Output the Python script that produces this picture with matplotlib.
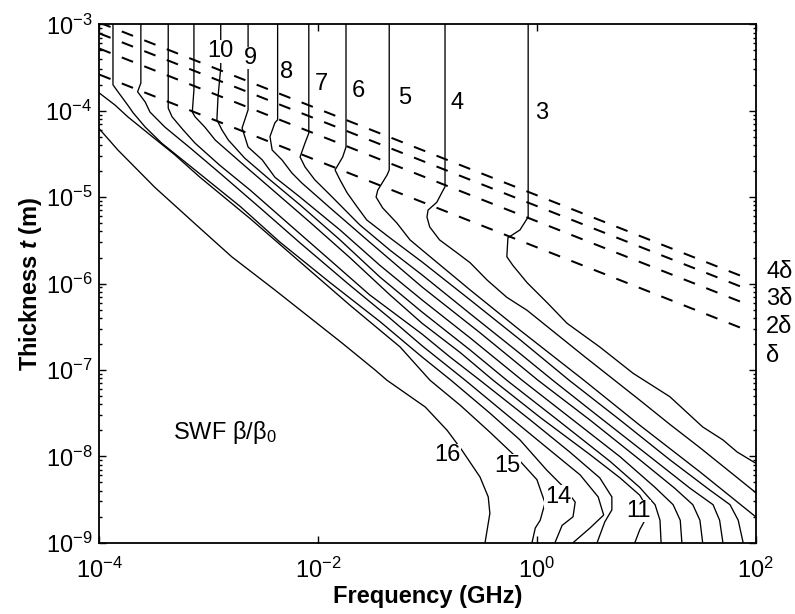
import numpy as np
import matplotlib
matplotlib.use("Agg")
import matplotlib.pyplot as plt
from matplotlib.ticker import FixedLocator, NullLocator, LogLocator, NullFormatter, FixedFormatter

plt.rcParams['font.family'] = ['Liberation Sans', 'DejaVu Sans']
plt.rcParams['mathtext.fontset'] = 'custom'
plt.rcParams['mathtext.rm'] = 'Liberation Sans'
plt.rcParams['mathtext.it'] = 'Liberation Sans:italic:bold'
plt.rcParams['mathtext.bf'] = 'Liberation Sans:bold'

# ---- contour lines of the SWF ratio beta/beta0 : (log10 f [GHz], log10 t [m]) ----
c3_logf = [-0.08, -0.08, -0.155, -0.265, -0.275, -0.22, -0.09, 0.10, 0.275, 0.575, 0.88, 1.215, 1.515, 1.70, 1.83, 2.00]
c3_logt = [-3.00, -5.23, -5.38, -5.47, -5.69, -5.79, -5.99, -6.23, -6.46, -6.735, -7.04, -7.31, -7.66, -7.81, -7.95, -8.08]

c4_logf = [-0.84, -0.84, -0.87, -0.915, -0.995, -1.005, -0.98, -0.89, -0.73, -0.61, -0.455, -0.275, -0.09, 0.145, 0.43, 0.71, 0.94, 1.215, 1.49, 1.765, 2.00]
c4_logt = [-3.00, -4.88, -4.95, -5.06, -5.15, -5.23, -5.345, -5.495, -5.645, -5.76, -5.96, -6.16, -6.31, -6.55, -6.84, -7.12, -7.35, -7.63, -7.90, -8.18, -8.42]

c5_logf = [-1.35, -1.35, -1.37, -1.455, -1.47, -1.41, -1.28, -1.16, -1.05, -0.61, -0.155, 0.43, 0.94, 1.49, 2.00]
c5_logt = [-3.00, -4.686, -4.745, -4.92, -5.00, -5.125, -5.30, -5.495, -5.612, -6.075, -6.54, -7.12, -7.64, -8.18, -8.70]

c6_logf = [-1.745, -1.745, -1.775, -1.845, -1.80, -1.735, -1.645, -1.555, -1.345, -1.05, -0.61, -0.155, 0.295, 0.76, 1.215, 1.58, 1.765, 1.84, 1.885]
c6_logt = [-3.00, -4.42, -4.535, -4.686, -4.80, -4.95, -5.11, -5.265, -5.47, -5.75, -6.19, -6.65, -7.12, -7.58, -8.04, -8.39, -8.56, -8.74, -9.00]

c7_logf = [-2.085, -2.085, -2.12, -2.165, -2.12, -2.03, -1.89, -1.62, -1.345, -1.05, -0.61, -0.155, 0.145, 0.575, 1.034, 1.40, 1.61, 1.67, 1.70]
c7_logt = [-3.00, -4.26, -4.375, -4.535, -4.65, -4.80, -4.975, -5.32, -5.612, -5.90, -6.35, -6.81, -7.12, -7.55, -8.005, -8.37, -8.56, -8.74, -9.00]

c8_logf = [-2.37, -2.37, -2.395, -2.44, -2.42, -2.33, -2.24, -2.15, -1.89, -1.53, -1.05, -0.52, 0.01, 0.485, 0.94, 1.26, 1.425, 1.49, 1.515]
c8_logt = [-3.00, -4.105, -4.14, -4.30, -4.455, -4.57, -4.72, -4.835, -5.125, -5.52, -6.04, -6.57, -7.12, -7.58, -8.04, -8.37, -8.56, -8.74, -9.00]

c9_logf = [-2.64, -2.64, -2.67, -2.695, -2.64, -2.51, -2.395, -2.165, -1.80, -1.435, -1.05, -0.61, -0.135, 0.30, 0.76, 1.08, 1.245, 1.31, 1.325]
c9_logt = [-3.00, -3.99, -4.105, -4.20, -4.42, -4.57, -4.77, -5.00, -5.38, -5.79, -6.19, -6.63, -7.12, -7.55, -8.005, -8.36, -8.56, -8.74, -9.00]

c10_logf = [-2.89, -2.89, -2.915, -2.925, -2.88, -2.82, -2.67, -2.44, -2.165, -1.80, -1.435, -1.05, -0.61, -0.275, 0.21, 0.67, 0.94, 1.08, 1.125, 1.135]
c10_logt = [-3.00, -3.505, -3.84, -4.105, -4.22, -4.34, -4.55, -4.80, -5.09, -5.495, -5.925, -6.33, -6.77, -7.12, -7.60, -8.06, -8.36, -8.56, -8.74, -9.00]

c11_logf = [-3.135, -3.135, -3.15, -3.125, -3.035, -2.94, -2.71, -2.44, -2.075, -1.71, -1.345, -1.05, -0.70, -0.40, 0.03, 0.485, 0.76, 0.94, 1.03, 0.94, 0.895]
c11_logt = [-3.00, -3.76, -4.015, -4.07, -4.19, -4.34, -4.595, -4.89, -5.29, -5.70, -6.13, -6.46, -6.80, -7.12, -7.55, -7.98, -8.25, -8.45, -8.64, -8.85, -9.00]

c12_logf = [-3.37, -3.37, -3.335, -3.235, -3.125, -2.90, -2.62, -2.26, -1.89, -1.53, -1.05, -0.795, -0.52, -0.06, 0.30, 0.575, 0.685, 0.685, 0.62, 0.55]
c12_logt = [-3.00, -3.97, -4.07, -4.22, -4.375, -4.63, -4.92, -5.32, -5.73, -6.13, -6.585, -6.85, -7.12, -7.58, -7.95, -8.25, -8.47, -8.62, -8.76, -9.00]

c13_logf = [-3.62, -3.62, -3.65, -3.58, -3.537, -3.40, -3.17, -2.90, -2.53, -2.165, -1.71, -1.345, -1.05, -0.655, -0.245, 0.12, 0.395, 0.56, 0.61, 0.485, 0.33]
c13_logt = [-3.00, -3.68, -3.78, -3.90, -4.015, -4.19, -4.43, -4.72, -5.125, -5.53, -6.02, -6.40, -6.72, -7.12, -7.55, -7.93, -8.215, -8.47, -8.68, -8.83, -9.00]

c14_logf = [-3.875, -3.875, -3.83, -3.74, -3.69, -3.58, -3.43, -3.125, -2.71, -2.35, -1.89, -1.435, -1.05, -0.785, -0.43, -0.155, 0.09, 0.255, 0.35, 0.33, 0.23, 0.165]
c14_logt = [-3.00, -3.70, -3.78, -3.935, -4.025, -4.19, -4.375, -4.686, -5.11, -5.52, -5.99, -6.44, -6.85, -7.12, -7.50, -7.81, -8.16, -8.37, -8.53, -8.70, -8.80, -9.00]

c15_logf = [-4.00, -3.856, -3.74, -3.555, -3.31, -3.08, -2.62, -2.165, -1.71, -1.25, -0.977, -0.70, -0.43, -0.18, 0.00, 0.074, 0.03, -0.015, -0.045]
c15_logt = [-3.795, -3.935, -4.07, -4.26, -4.51, -4.77, -5.25, -5.75, -6.25, -6.735, -7.12, -7.41, -7.72, -8.02, -8.27, -8.54, -8.74, -8.83, -9.00]

c16_logf = [-4.00, -3.83, -3.49, -3.08, -2.79, -2.395, -1.78, -1.48, -1.37, -1.02, -0.82, -0.685, -0.52, -0.445, -0.43, -0.474]
c16_logt = [-4.21, -4.455, -4.89, -5.36, -5.69, -6.075, -6.69, -7.00, -7.12, -7.43, -7.70, -7.93, -8.24, -8.47, -8.66, -9.00]

contours = [
    (c3_logf, c3_logt), (c4_logf, c4_logt), (c5_logf, c5_logt), (c6_logf, c6_logt),
    (c7_logf, c7_logt), (c8_logf, c8_logt), (c9_logf, c9_logt), (c10_logf, c10_logt),
    (c11_logf, c11_logt), (c12_logf, c12_logt), (c13_logf, c13_logt), (c14_logf, c14_logt),
    (c15_logf, c15_logt), (c16_logf, c16_logt),
]

# contour label text and where it sits (log10 f, log10 t)
label_text = ["3", "4", "5", "6", "7", "8", "9", "10", "11", "14", "15", "16"]
label_logf = [0.047, -0.73, -1.205, -1.635, -1.973, -2.285, -2.622, -2.897, 0.924, 0.193, -0.274, -0.822]
label_logt = [-4.027, -3.91, -3.854, -3.773, -3.69, -3.552, -3.39, -3.31, -8.633, -8.47, -8.11, -7.985]

# skin depth of the conductor at the two ends of the band
skin_freq_ghz = [1e-4, 75.0]
skin_depth_m = [2.62e-4, 3.03e-7]
skin_multiples = [1, 2, 3, 4]
skin_labels = ["\u03b4", "2\u03b4", "3\u03b4", "4\u03b4"]

fig = plt.figure(figsize=(7.95, 6.14), dpi=100)
ax = fig.add_axes([0.1249, 0.1161, 0.8257, 0.8443])
ax.set_xscale('log')
ax.set_yscale('log')
ax.set_xlim(1e-4, 1e2)
ax.set_ylim(1e-9, 1e-3)

for lf, lt in contours:
    ax.plot(10.0 ** np.asarray(lf), 10.0 ** np.asarray(lt), color='black', lw=0.95,
            solid_joinstyle='round', zorder=2)

for m in skin_multiples:
    ax.plot(skin_freq_ghz, [m * d for d in skin_depth_m], color='black', lw=1.45,
            dashes=(6.0, 6.0), zorder=3)

fs = 17
for txt, lf, lt in zip(label_text, label_logf, label_logt):
    ax.text(10.0 ** lf, 10.0 ** lt, txt, fontsize=fs, ha='center', va='center', zorder=4,
            bbox=dict(facecolor='white', edgecolor='none', pad=0.3))

ax.text(10.0 ** -3.33, 10.0 ** -7.73, "SWF \u03b2/\u03b2$_0$", fontsize=fs, ha='left', va='center')

skin_label_y = [0.3601, 0.4160, 0.4701, 0.5218]
for txt, yy in zip(skin_labels, skin_label_y):
    ax.text(1.0157, yy, txt, transform=ax.transAxes, fontsize=fs, ha='left', va='center')

# axes styling
ax.xaxis.set_major_locator(FixedLocator([1e-4, 1e-2, 1e0, 1e2]))
ax.xaxis.set_major_formatter(FixedFormatter(["$10^{-4}$", "$10^{-2}$", "$10^{0}$", "$10^{2}$"]))
ax.xaxis.set_minor_locator(NullLocator())
ax.yaxis.set_major_locator(FixedLocator([1e-9, 1e-8, 1e-7, 1e-6, 1e-5, 1e-4, 1e-3]))
ax.yaxis.set_major_formatter(FixedFormatter(["$10^{-9}$", "$10^{-8}$", "$10^{-7}$", "$10^{-6}$",
                                             "$10^{-5}$", "$10^{-4}$", "$10^{-3}$"]))
ax.yaxis.set_minor_locator(LogLocator(base=10, subs=np.arange(2, 10), numticks=20))
ax.yaxis.set_minor_formatter(NullFormatter())
ax.tick_params(which='both', direction='in', top=True, right=True, labelsize=fs, width=1.0)
ax.tick_params(which='major', length=5)
ax.tick_params(axis='y', which='major', pad=5)
ax.tick_params(axis='x', which='major', pad=11)
ax.tick_params(which='minor', length=2.5)
for s in ax.spines.values():
    s.set_linewidth(1.3)

ax.set_xlabel("Frequency (GHz)", fontsize=fs, fontweight='bold', labelpad=1)
ax.set_ylabel("Thickness $t$ (m)", fontsize=fs, fontweight='bold', labelpad=1)

fig.savefig("out.png", dpi=100)
